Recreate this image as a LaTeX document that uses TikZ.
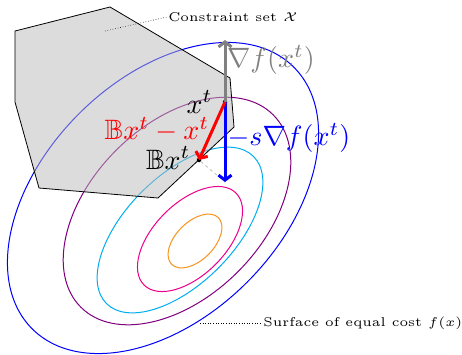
\documentclass[tikz,border=0pt]{standalone}
\usepackage{amssymb}
\usetikzlibrary{arrows.meta}
\definecolor{cBlue}{RGB}{0,0,255}
\definecolor{cPurple}{RGB}{128,0,128}
\definecolor{cCyan}{RGB}{0,174,239}
\definecolor{cPink}{RGB}{236,0,140}
\definecolor{cOrange}{RGB}{247,148,29}
\tikzset{
  contour/.style={line width=1pt},
  setpoly/.style={draw=black, line width=0.8pt, fill=black!27, fill opacity=0.5},
  vec/.style={line width=3pt, -{Straight Barb[length=5pt,width=13pt]}},
  ptdot/.style={circle, fill=black, inner sep=0pt, minimum size=4.5pt},
  bigmath/.style={font=\normalsize, scale=2.8, transform shape, inner sep=0.3pt},
  caption/.style={font=\tiny, scale=2.55, transform shape, anchor=west, inner sep=0.3pt},
  leader/.style={dotted, line width=0.6pt}
}
\begin{document}
\begin{tikzpicture}[x=1pt,y=-1pt]
\useasboundingbox (0,0) rectangle (462,354);
% contours
\draw[contour, cBlue]   (163,198) [rotate around={45:(163,198)}] ellipse [x radius=185pt, y radius=119pt];
\draw[contour, cPurple] (177,211) [rotate around={45:(177,211)}] ellipse [x radius=136pt, y radius=86pt];
\draw[contour, cCyan]   (180,230) [rotate around={45:(180,230)}] ellipse [x radius=104pt, y radius=54pt];
\draw[contour, cPink]   (190,239) [rotate around={45:(190,239)}] ellipse [x radius=65pt, y radius=36pt];
\draw[contour, cOrange] (195,241) [rotate around={45:(195,241)}] ellipse [x radius=33pt, y radius=19pt];
% constraint set
\draw[setpoly] (15,31) -- (110,7) -- (230,78) -- (234,127) -- (158,198) -- (39,188) -- (15,102) -- cycle;
% points
\node[ptdot] (xt) at (225,102) {};
\node[ptdot] (bx) at (199,160) {};
\coordinate (gt) at (225,40);
\coordinate (bt) at (225,182);
% projection line
\draw[dashed, black!25, line width=0.8pt] (bx) -- (bt);
% vectors
\draw[vec, black!50] (xt.center) -- (gt);
\draw[vec, blue] (xt.center) -- (bt);
\draw[vec, red] (xt.center) -- (bx.center);
% labels
\node[bigmath, anchor=east] (lxt) at (214,102) {$x^t$};
\node[bigmath, anchor=east] (lbx) at (192,158) {$\mathbb{B}x^t$};
\node[bigmath, red] (lred) at (157,130) {$\mathbb{B}x^t-x^t$};
\node[bigmath, blue] (lblue) at (289,138) {$-s\nabla f(x^t)$};
\node[bigmath, black!50] (lgray) at (271,60) {$\nabla f(x^t)$};
% captions
\node[caption] (cset) at (167,17) {Constraint set $\mathcal{X}$};
\coordinate (csetp) at (105,31);
\draw[leader] (csetp) -- (cset.west);
\node[caption] (csurf) at (262,323) {Surface of equal cost $f(x)$};
\coordinate (csurfp) at (200,323);
\draw[leader] (csurfp) -- (csurf.west);
\end{tikzpicture}
\end{document}
